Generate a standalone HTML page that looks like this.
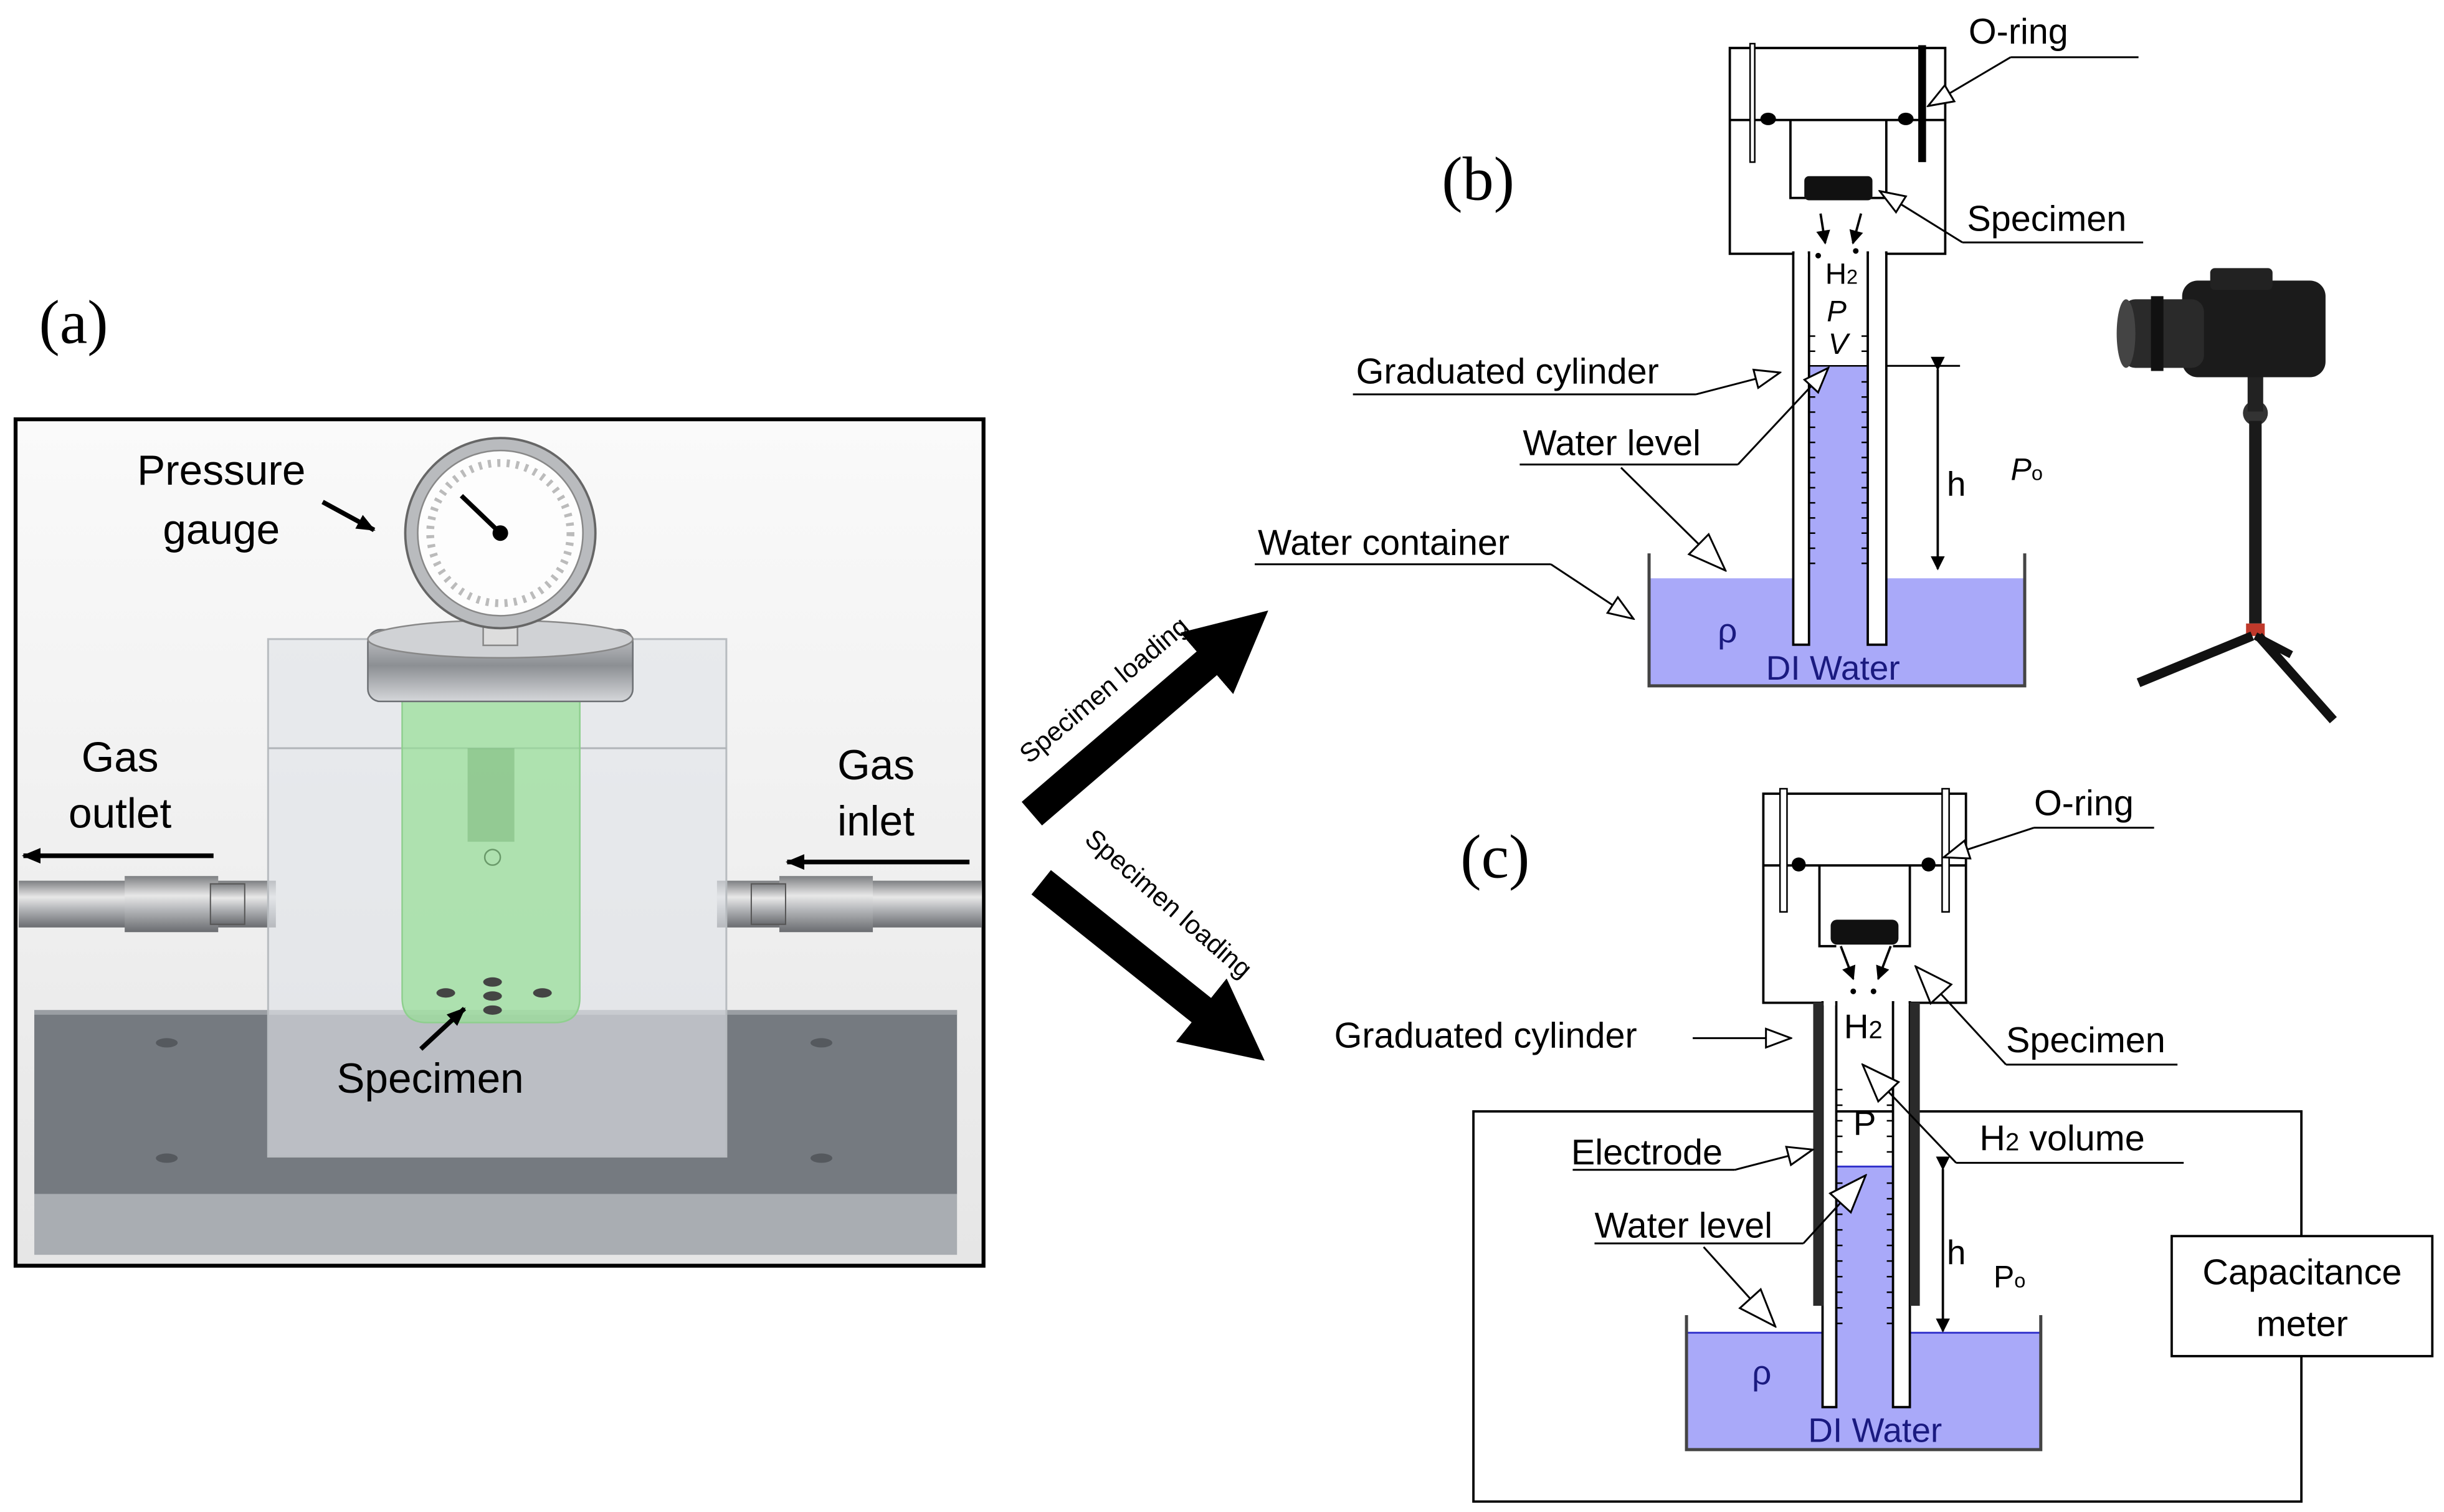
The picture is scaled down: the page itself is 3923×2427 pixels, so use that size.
<!DOCTYPE html>
<html><head><meta charset="utf-8"><style>
html,body{margin:0;padding:0;background:#fff}
svg{display:block}
text{font-family:"Liberation Sans","Noto Sans CJK KR",sans-serif}
</style></head><body>
<svg width="3923" height="2427" viewBox="0 0 1568 970" preserveAspectRatio="none" xmlns="http://www.w3.org/2000/svg">
<defs>
<marker id="ha" viewBox="0 0 18 14" refX="17" refY="7" markerWidth="18" markerHeight="14" markerUnits="userSpaceOnUse" orient="auto"><path d="M1,1 L17,7 L1,13 z" fill="#fff" stroke="#000" stroke-width="1.2"/></marker>
<marker id="hb" viewBox="0 0 26 20" refX="25" refY="10" markerWidth="26" markerHeight="20" markerUnits="userSpaceOnUse" orient="auto"><path d="M1,1 L25,10 L1,19 z" fill="#fff" stroke="#000" stroke-width="1.2"/></marker>
<marker id="fa" viewBox="0 0 12 10" refX="11" refY="5" markerWidth="12" markerHeight="10" markerUnits="userSpaceOnUse" orient="auto"><path d="M0,0 L12,5 L0,10 z" fill="#000"/></marker>
<marker id="fs" viewBox="0 0 10 10" refX="9" refY="5" markerWidth="9" markerHeight="9" markerUnits="userSpaceOnUse" orient="auto"><path d="M0,0 L10,5 L0,10 z" fill="#000"/></marker>
<marker id="big" viewBox="0 0 10 10" refX="4" refY="5" markerWidth="2.6" markerHeight="2.6" orient="auto"><path d="M0,0 L10,5 L0,10 z" fill="#000"/></marker>
<linearGradient id="pipe" x1="0" y1="0" x2="0" y2="1"><stop offset="0" stop-color="#7d7f82"/><stop offset="0.35" stop-color="#e8e8e8"/><stop offset="0.6" stop-color="#b5b7ba"/><stop offset="1" stop-color="#6a6c70"/></linearGradient>
<linearGradient id="fl" x1="0" y1="0" x2="0" y2="1"><stop offset="0" stop-color="#c8cacd"/><stop offset="0.5" stop-color="#8c8f93"/><stop offset="1" stop-color="#d5d7da"/></linearGradient>
<linearGradient id="bg" x1="0" y1="0" x2="0" y2="1"><stop offset="0" stop-color="#fafafa"/><stop offset="1" stop-color="#e6e6e6"/></linearGradient>
</defs>

<!-- ========== Panel (a) ========== -->
<text x="25" y="220" font-family="Liberation Serif" font-size="40" style="font-family:'Liberation Serif',serif">(a)</text>
<rect x="10" y="269" width="621" height="543" fill="url(#bg)" stroke="#000" stroke-width="2.5"/>
<rect x="22" y="648" width="592" height="118" fill="#757a80"/>
<rect x="22" y="648" width="592" height="3" fill="#9a9ea3"/>
<rect x="22" y="766" width="592" height="39" fill="#a9adb2"/>
<ellipse cx="107" cy="669" rx="7" ry="3" fill="#55595e"/>
<ellipse cx="527" cy="669" rx="7" ry="3" fill="#55595e"/>
<ellipse cx="107" cy="743" rx="7" ry="3" fill="#55595e"/>
<ellipse cx="527" cy="743" rx="7" ry="3" fill="#55595e"/>
<!-- pipes -->
<rect x="12" y="565" width="165" height="30" fill="url(#pipe)"/>
<rect x="80" y="562" width="60" height="36" fill="url(#pipe)"/>
<rect x="135" y="567" width="22" height="26" fill="url(#pipe)" stroke="#555" stroke-width="0.8"/>
<rect x="460" y="565" width="170" height="30" fill="url(#pipe)"/>
<rect x="500" y="562" width="60" height="36" fill="url(#pipe)"/>
<rect x="482" y="567" width="22" height="26" fill="url(#pipe)" stroke="#555" stroke-width="0.8"/>
<!-- transparent box -->
<rect x="172" y="410" width="294" height="332" fill="rgba(225,228,232,0.65)" stroke="#b8bcc0" stroke-width="1.2"/>
<line x1="172" y1="480" x2="466" y2="480" stroke="#b0b4b8" stroke-width="1.2"/>
<!-- green cylinder -->
<path d="M258,445 L372,445 L372,640 Q372,656 356,656 L274,656 Q258,656 258,640 Z" fill="rgba(150,222,150,0.7)" stroke="#8fcf8f"/>
<rect x="300" y="480" width="30" height="60" fill="rgba(120,180,120,0.5)"/>
<circle cx="316" cy="550" r="5" fill="none" stroke="#6a9a6a"/>
<ellipse cx="286" cy="637" rx="6" ry="3" fill="#444"/>
<ellipse cx="316" cy="630" rx="6" ry="3" fill="#444"/>
<ellipse cx="316" cy="639" rx="6" ry="3" fill="#444"/>
<ellipse cx="316" cy="648" rx="6" ry="3" fill="#444"/>
<ellipse cx="348" cy="637" rx="6" ry="3" fill="#444"/>
<!-- flange -->
<rect x="236" y="404" width="170" height="46" rx="8" fill="url(#fl)" stroke="#6d7074"/>
<ellipse cx="321" cy="410" rx="85" ry="12" fill="#d0d2d5" stroke="#888"/>
<rect x="310" y="398" width="22" height="16" fill="#ddd" stroke="#888"/>
<!-- gauge -->
<circle cx="321" cy="342" r="61" fill="#b9bbbe" stroke="#666" stroke-width="1.5"/>
<circle cx="321" cy="342" r="53" fill="#fdfdfd" stroke="#888"/>
<circle cx="321" cy="342" r="45" fill="none" stroke="#bbb" stroke-dasharray="2 4" stroke-width="5"/>
<line x1="321" y1="342" x2="296" y2="318" stroke="#000" stroke-width="3"/>
<circle cx="321" cy="342" r="5" fill="#000"/>
<text x="142" y="311" font-size="27" text-anchor="middle">Pressure</text>
<text x="142" y="349" font-size="27" text-anchor="middle">gauge</text>
<line x1="207" y1="322" x2="240" y2="340" stroke="#000" stroke-width="3" marker-end="url(#fa)"/>
<text x="77" y="495" font-size="27" text-anchor="middle">Gas</text>
<text x="77" y="531" font-size="27" text-anchor="middle">outlet</text>
<line x1="137" y1="549" x2="15" y2="549" stroke="#000" stroke-width="3" marker-end="url(#fa)"/>
<text x="562" y="500" font-size="27" text-anchor="middle">Gas</text>
<text x="562" y="536" font-size="27" text-anchor="middle">inlet</text>
<line x1="622" y1="553" x2="505" y2="553" stroke="#000" stroke-width="3" marker-end="url(#fa)"/>
<line x1="270" y1="673" x2="298" y2="647" stroke="#000" stroke-width="3" marker-end="url(#fa)"/>
<text x="276" y="701" font-size="27" text-anchor="middle">Specimen</text>

<!-- ========== Big arrows ========== -->
<line x1="662" y1="522" x2="790" y2="412" stroke="#000" stroke-width="20" marker-end="url(#big)"/>
<text transform="translate(712,447) rotate(-40)" font-size="17" text-anchor="middle">Specimen loading</text>
<line x1="668" y1="566" x2="787" y2="661" stroke="#000" stroke-width="20" marker-end="url(#big)"/>
<text transform="translate(746,584) rotate(41)" font-size="17" text-anchor="middle">Specimen loading</text>

<!-- ========== Panel (b) ========== -->
<text x="925" y="128" font-size="40" style="font-family:'Liberation Serif',serif">(b)</text>
<!-- container -->
<rect x="1058" y="371" width="241" height="69" fill="#a9a9f9"/>
<polyline points="1058,355 1058,440 1299,440 1299,355" fill="none" stroke="#444" stroke-width="2"/>
<!-- water in tube -->
<rect x="1160.6" y="234.7" width="37.7" height="178.9" fill="#a9a9f9"/>
<!-- cylinder neck walls (white) -->
<rect x="1150.5" y="162" width="10.1" height="251.6" fill="#fff" stroke="#000" stroke-width="1.5"/>
<rect x="1198.3" y="162" width="11.9" height="251.6" fill="#fff" stroke="#000" stroke-width="1.5"/>
<!-- outer top -->
<path d="M1150.5,162.8 L1109.8,162.8 L1109.8,30.8 L1248,30.8 L1248,162.8 L1210.2,162.8" fill="none" stroke="#000" stroke-width="1.5"/>
<rect x="1151.3" y="160" width="8.5" height="5" fill="#fff"/>
<rect x="1199.1" y="160" width="10.3" height="5" fill="#fff"/>
<line x1="1109.8" y1="77" x2="1248" y2="77" stroke="#000" stroke-width="1.5"/>
<polyline points="1148.7,77 1148.7,127 1160.6,127" fill="none" stroke="#000" stroke-width="1.5"/>
<polyline points="1210.2,77 1210.2,127 1198.3,127" fill="none" stroke="#000" stroke-width="1.5"/>
<rect x="1122.8" y="28" width="3" height="76" fill="#fff" stroke="#000" stroke-width="1"/>
<rect x="1230.7" y="29" width="5" height="75" fill="#000"/>
<ellipse cx="1134.4" cy="76.3" rx="5" ry="4" fill="#000"/>
<ellipse cx="1222.7" cy="76.3" rx="5" ry="4" fill="#000"/>
<rect x="1157.6" y="113" width="43.7" height="15.5" rx="3" fill="#111"/>
<line x1="1160.6" y1="234.7" x2="1198.3" y2="234.7" stroke="#000" stroke-width="1"/>
<line x1="1210.2" y1="234.7" x2="1257.5" y2="234.7" stroke="#000" stroke-width="1.2"/>
<g stroke="#000" stroke-width="1">
<path d="M1160.6,215.6h4M1160.6,225.3h4M1160.6,245h4M1160.6,254.7h4M1160.6,264.4h4M1160.6,274.1h4M1160.6,283.8h4M1160.6,293.5h4M1160.6,303.2h4M1160.6,312.9h4M1160.6,322.6h4M1160.6,332.3h4M1160.6,342h4M1160.6,351.7h4M1160.6,361.4h4"/>
<path d="M1198.3,215.6h-4M1198.3,225.3h-4M1198.3,245h-4M1198.3,254.7h-4M1198.3,264.4h-4M1198.3,274.1h-4M1198.3,283.8h-4M1198.3,293.5h-4M1198.3,303.2h-4M1198.3,312.9h-4M1198.3,322.6h-4M1198.3,332.3h-4M1198.3,342h-4M1198.3,351.7h-4M1198.3,361.4h-4"/>
</g>
<line x1="1168" y1="137" x2="1171" y2="156" stroke="#000" stroke-width="1.5" marker-end="url(#fs)"/>
<line x1="1194" y1="137" x2="1188.8" y2="156" stroke="#000" stroke-width="1.5" marker-end="url(#fs)"/>
<circle cx="1166.5" cy="164" r="1.8"/><circle cx="1190.6" cy="161" r="1.8"/>
<text x="1171" y="182" font-size="19">H<tspan font-size="13">2</tspan></text>
<text x="1172" y="206" font-size="19" font-style="italic">P</text>
<text x="1173" y="227" font-size="19" font-style="italic">V</text>
<line x1="1243.2" y1="237" x2="1243.2" y2="365" stroke="#000" stroke-width="1.5" marker-start="url(#fs)" marker-end="url(#fs)"/>
<text x="1249" y="318" font-size="22">h</text>
<text x="1290" y="308" font-size="20" font-style="italic">P<tspan font-size="13" font-style="normal">o</tspan></text>
<text x="1102" y="412" font-size="22" fill="#1a1a80">ρ</text>
<text x="1133" y="436" font-size="22" fill="#1a1a80">DI Water</text>
<!-- b leaders -->
<g stroke="#000" stroke-width="1.2" fill="none">
<line x1="1290" y1="36.7" x2="1372" y2="36.7"/><line x1="1290" y1="36.7" x2="1237" y2="68" marker-end="url(#ha)"/>
<line x1="1259" y1="155.5" x2="1375" y2="155.5"/><line x1="1259" y1="155.5" x2="1206" y2="122.6" marker-end="url(#ha)"/>
<line x1="868" y1="253" x2="1088" y2="253"/><line x1="1088" y1="253" x2="1142" y2="239" marker-end="url(#ha)"/>
<line x1="975" y1="298" x2="1115" y2="298"/><line x1="1115" y1="298" x2="1173" y2="236" marker-end="url(#ha)"/>
<line x1="1040" y1="300" x2="1107" y2="366" marker-end="url(#hb)"/>
<line x1="805" y1="362" x2="995" y2="362"/><line x1="995" y1="362" x2="1048" y2="397" marker-end="url(#ha)"/>
</g>
<text x="1263" y="28" font-size="23">O-ring</text>
<text x="1262" y="148" font-size="23">Specimen</text>
<text x="870" y="246" font-size="23">Graduated cylinder</text>
<text x="977" y="292" font-size="23">Water level</text>
<text x="807" y="356" font-size="23">Water container</text>
<!-- camera -->
<g>
<rect x="1400" y="180" width="92" height="62" rx="10" fill="#1b1b1b"/>
<rect x="1418" y="172" width="40" height="14" rx="3" fill="#222"/>
<rect x="1362" y="192" width="52" height="44" rx="8" fill="#2a2a2a"/>
<ellipse cx="1364" cy="214" rx="6" ry="22" fill="#444"/>
<rect x="1380" y="190" width="8" height="48" fill="#111"/>
<circle cx="1447" cy="265" r="8" fill="#333"/>
<rect x="1442" y="242" width="10" height="22" fill="#222"/>
<rect x="1443" y="270" width="8" height="130" fill="#1a1a1a"/>
<rect x="1441" y="400" width="12" height="8" fill="#c0392b"/>
<line x1="1445" y1="408" x2="1372" y2="438" stroke="#111" stroke-width="6"/>
<line x1="1449" y1="408" x2="1497" y2="462" stroke="#111" stroke-width="6"/>
<line x1="1447" y1="408" x2="1470" y2="420" stroke="#111" stroke-width="5"/>
</g>

<!-- ========== Panel (c) ========== -->
<text x="937" y="563" font-size="40" style="font-family:'Liberation Serif',serif">(c)</text>
<!-- big box -->
<rect x="945.3" y="713" width="531.2" height="250.3" fill="none" stroke="#000" stroke-width="1.5"/>
<rect x="1393.3" y="793" width="167.2" height="77" fill="#fff" stroke="#000" stroke-width="1.5"/>
<text x="1477" y="824" font-size="23" text-anchor="middle">Capacitance</text>
<text x="1477" y="857" font-size="23" text-anchor="middle">meter</text>
<!-- container -->
<rect x="1082" y="855" width="227.3" height="75" fill="#a9a9f9"/>
<line x1="1082" y1="855" x2="1309.3" y2="855" stroke="#3333cc" stroke-width="1.2"/>
<polyline points="1082,843.7 1082,930 1309.3,930 1309.3,843.7" fill="none" stroke="#444" stroke-width="2"/>
<rect x="1178.1" y="748.4" width="36.4" height="154.3" fill="#a9a9f9"/>
<line x1="1178.1" y1="748.4" x2="1214.5" y2="748.4" stroke="#3333cc" stroke-width="1.2"/>
<rect x="1169.3" y="643" width="8.8" height="259.7" fill="#fff" stroke="#000" stroke-width="1.5"/>
<rect x="1214.5" y="643" width="10.8" height="259.7" fill="#fff" stroke="#000" stroke-width="1.5"/>
<path d="M1169.3,643.3 L1131.3,643.3 L1131.3,509.2 L1261.3,509.2 L1261.3,643.3 L1225.3,643.3" fill="none" stroke="#000" stroke-width="1.5"/>
<rect x="1170" y="640" width="7.4" height="5" fill="#fff"/>
<rect x="1215.3" y="640" width="9.2" height="5" fill="#fff"/>
<line x1="1131.3" y1="555.2" x2="1261.3" y2="555.2" stroke="#000" stroke-width="1.5"/>
<polyline points="1167.3,555.2 1167.3,607 1178.1,607" fill="none" stroke="#000" stroke-width="1.5"/>
<polyline points="1225.3,555.2 1225.3,607 1214.5,607" fill="none" stroke="#000" stroke-width="1.5"/>
<rect x="1142" y="506" width="4.5" height="79" fill="#fff" stroke="#000" stroke-width="1"/>
<rect x="1246" y="506" width="4.5" height="79" fill="#fff" stroke="#000" stroke-width="1"/>
<ellipse cx="1154" cy="554.6" rx="4.5" ry="4.5" fill="#000"/>
<ellipse cx="1237.3" cy="554.6" rx="4.5" ry="4.5" fill="#000"/>
<rect x="1174.5" y="590" width="43.5" height="16" rx="4" fill="#111"/>
<rect x="1163.3" y="643" width="6.4" height="194.7" fill="#2a2a2a"/>
<rect x="1225.3" y="643" width="6.4" height="194.7" fill="#2a2a2a"/>
<g stroke="#000" stroke-width="1">
<path d="M1178.1,699h4M1178.1,709h4M1178.1,719h4M1178.1,729h4M1178.1,739h4M1178.1,759h4M1178.1,769h4M1178.1,779h4M1178.1,789h4M1178.1,799h4M1178.1,809h4M1178.1,819h4M1178.1,829h4M1178.1,839h4M1178.1,849h4"/>
<path d="M1214.5,699h-4M1214.5,709h-4M1214.5,719h-4M1214.5,729h-4M1214.5,739h-4M1214.5,759h-4M1214.5,769h-4M1214.5,779h-4M1214.5,789h-4M1214.5,799h-4M1214.5,809h-4M1214.5,819h-4M1214.5,829h-4M1214.5,839h-4M1214.5,849h-4"/>
</g>
<line x1="1181" y1="607" x2="1189" y2="628" stroke="#000" stroke-width="1.5" marker-end="url(#fs)"/>
<line x1="1213" y1="607" x2="1205" y2="628" stroke="#000" stroke-width="1.5" marker-end="url(#fs)"/>
<circle cx="1189" cy="636" r="1.8"/><circle cx="1202" cy="636" r="1.8"/>
<text x="1183" y="666" font-size="22">H<tspan font-size="16">2</tspan></text>
<text x="1189" y="728" font-size="22">P</text>
<line x1="1246.5" y1="750" x2="1246.5" y2="854" stroke="#000" stroke-width="1.5" marker-start="url(#fs)" marker-end="url(#fs)"/>
<text x="1249" y="811" font-size="22">h</text>
<text x="1279" y="826" font-size="20">P<tspan font-size="13">o</tspan></text>
<text x="1124" y="888" font-size="22" fill="#1a1a80">ρ</text>
<text x="1160" y="925" font-size="22" fill="#1a1a80">DI Water</text>
<g stroke="#000" stroke-width="1.2" fill="none">
<line x1="1305" y1="531" x2="1382" y2="531"/><line x1="1305" y1="531" x2="1247" y2="550" marker-end="url(#ha)"/>
<line x1="1287" y1="683" x2="1397" y2="683"/><line x1="1287" y1="683" x2="1229" y2="620" marker-end="url(#hb)"/>
<line x1="1086" y1="666" x2="1149" y2="666" marker-end="url(#ha)"/>
<line x1="1255" y1="746" x2="1401" y2="746"/><line x1="1255" y1="746" x2="1195" y2="683" marker-end="url(#hb)"/>
<line x1="1009" y1="750.5" x2="1113" y2="750.5"/><line x1="1113" y1="750.5" x2="1163" y2="737.5" marker-end="url(#ha)"/>
<line x1="1023" y1="797.7" x2="1157" y2="797.7"/><line x1="1157" y1="797.7" x2="1197" y2="754" marker-end="url(#hb)"/>
<line x1="1093" y1="800" x2="1139" y2="851" marker-end="url(#hb)"/>
</g>
<text x="1305" y="523" font-size="23">O-ring</text>
<text x="1287" y="675" font-size="23">Specimen</text>
<text x="856" y="672" font-size="23">Graduated cylinder</text>
<text x="1270" y="738" font-size="23">H<tspan font-size="16">2</tspan> volume</text>
<text x="1008" y="747" font-size="23">Electrode</text>
<text x="1023" y="794" font-size="23">Water level</text>
</svg>
</body></html>
